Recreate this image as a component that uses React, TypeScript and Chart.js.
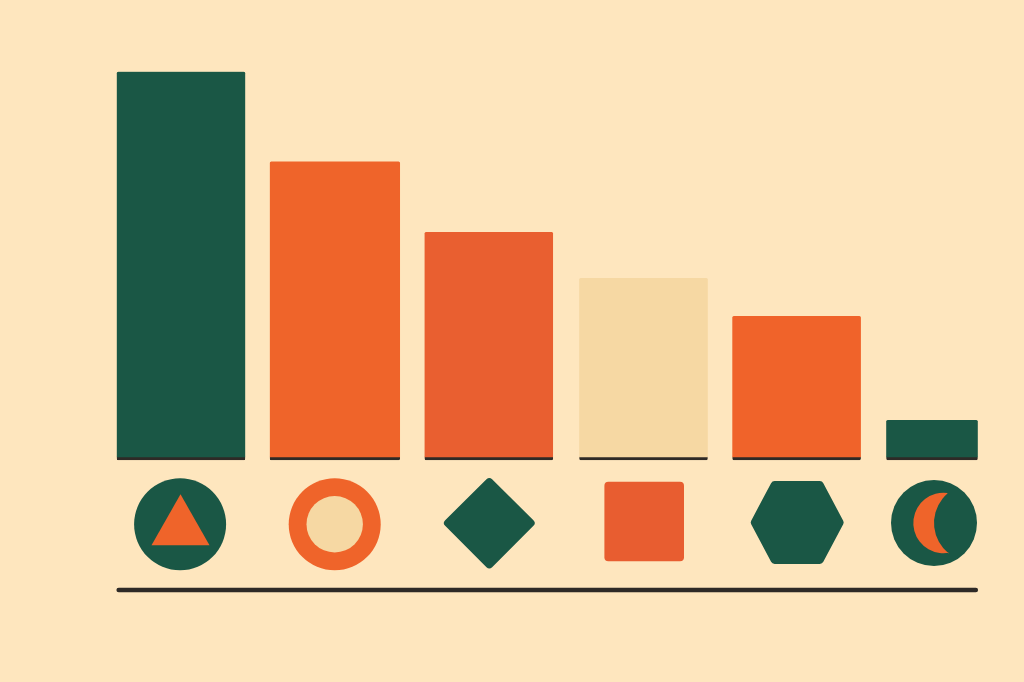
import React, { useEffect, useRef } from "react";
import { Chart, registerables } from "chart.js";

Chart.register(...registerables);

// Data (tallest bar = 100)
const categories = ["Triangle", "Ring", "Diamond", "Square", "Hexagon", "Crescent"];
const values = [100, 76.9, 58.7, 46.9, 37.1, 10.3];
const barColors = ["#1A5745", "#EF642A", "#E95F30", "#F6D8A3", "#F0632A", "#1A5745"];

const GREEN = "#1A5745";
const ORANGE = "#EF642A";
const SQUARE = "#E85D30";
const TAN = "#F6D8A3";
const INK = "#2E2A26";
const PAPER = "#FEE6BE";

const BAR_W = 128.6;
const SECOND_W = 130.3;
const LAST_W = 91.6;
const FOURTH_SHIFT = 0.8;
const ICON_Y = 524;

function roundedPoly(ctx: CanvasRenderingContext2D, pts: number[][], r: number) {
  const n = pts.length;
  const sx = (pts[n - 1][0] + pts[0][0]) / 2;
  const sy = (pts[n - 1][1] + pts[0][1]) / 2;
  ctx.beginPath();
  ctx.moveTo(sx, sy);
  for (let i = 0; i < n; i++) {
    const a = pts[i];
    const b = pts[(i + 1) % n];
    ctx.arcTo(a[0], a[1], b[0], b[1], r);
  }
  ctx.closePath();
  ctx.fill();
}

function disc(ctx: CanvasRenderingContext2D, x: number, y: number, r: number, color: string) {
  ctx.fillStyle = color;
  ctx.beginPath();
  ctx.arc(x, y, r, 0, Math.PI * 2);
  ctx.fill();
}

function drawIcon(ctx: CanvasRenderingContext2D, name: string, x: number, y: number) {
  switch (name) {
    case "Triangle":
      disc(ctx, x - 0.2, y + 0.3, 46, GREEN);
      ctx.fillStyle = ORANGE;
      ctx.beginPath();
      ctx.moveTo(x + 0.2, y - 29.7);
      ctx.lineTo(x + 29.2, y + 21.3);
      ctx.lineTo(x - 28.8, y + 21.3);
      ctx.closePath();
      ctx.fill();
      break;
    case "Ring":
      disc(ctx, x, y + 0.3, 46, ORANGE);
      disc(ctx, x, y + 0.3, 28.2, TAN);
      break;
    case "Diamond":
      ctx.fillStyle = GREEN;
      roundedPoly(
        ctx,
        [
          [x, y - 47.5],
          [x + 47, y - 1],
          [x, y + 46],
          [x - 47, y - 1],
        ],
        4
      );
      break;
    case "Square":
      ctx.fillStyle = SQUARE;
      roundedPoly(
        ctx,
        [
          [x - 39.8, y - 42.3],
          [x + 39.8, y - 42.3],
          [x + 39.8, y + 37.3],
          [x - 39.8, y + 37.3],
        ],
        4
      );
      break;
    case "Hexagon":
      ctx.fillStyle = GREEN;
      roundedPoly(
        ctx,
        [
          [x - 25, y - 43],
          [x + 25, y - 43],
          [x + 47, y - 1.5],
          [x + 25, y + 40],
          [x - 25, y + 40],
          [x - 47, y - 1.5],
        ],
        4
      );
      break;
    case "Crescent": {
      disc(ctx, x, y - 1, 43, GREEN);
      const cy = y - 1;
      const t1 = [x + 13.3, cy - 29.7];
      const t2 = [x + 15, cy + 30];
      const oc = [x + 9.5, cy];
      const ic = [x + 38.9, cy];
      ctx.fillStyle = ORANGE;
      ctx.beginPath();
      ctx.arc(
        oc[0],
        oc[1],
        30.2,
        Math.atan2(t1[1] - oc[1], t1[0] - oc[0]),
        Math.atan2(t2[1] - oc[1], t2[0] - oc[0]),
        true
      );
      ctx.arc(
        ic[0],
        ic[1],
        38.9,
        Math.atan2(t2[1] - ic[1], t2[0] - ic[0]),
        Math.atan2(t1[1] - ic[1], t1[0] - ic[0]),
        false
      );
      ctx.closePath();
      ctx.fill();
      break;
    }
  }
}

const iconNudge = [-0.7, -0.2, 0.5, 1.5, 0.6, -16.5];

const shapePlugin = {
  id: "shapes",
  afterDatasetsUpdate(chart: any) {
    const els = chart.getDatasetMeta(0).data;
    els[1].width = SECOND_W;
    els[3].x += FOURTH_SHIFT;
    // The last bar is narrower and keeps the left edge of its slot.
    const last = els[els.length - 1];
    const left = last.x - BAR_W / 2;
    last.width = LAST_W;
    last.x = left + LAST_W / 2;
  },
  afterDraw(chart: any) {
    const ctx: CanvasRenderingContext2D = chart.ctx;
    const els = chart.getDatasetMeta(0).data;
    const sx = chart.scales.x;
    ctx.save();
    categories.forEach((name, i) => {
      drawIcon(ctx, name, sx.getPixelForValue(i) + iconNudge[i], ICON_Y);
    });
    const first = els[0];
    const last = els[els.length - 1];
    ctx.strokeStyle = INK;
    ctx.lineWidth = 4.6;
    ctx.lineCap = "round";
    ctx.beginPath();
    ctx.moveTo(first.x - first.width / 2 + 2, 590);
    ctx.lineTo(last.x + last.width / 2 - 2, 590);
    ctx.stroke();
    ctx.restore();
  },
};

export default function App() {
  const ref = useRef<HTMLCanvasElement>(null);

  useEffect(() => {
    document.body.style.margin = "0";
    document.body.style.background = PAPER;
    const chart = new Chart(ref.current as HTMLCanvasElement, {
      type: "bar",
      data: {
        labels: categories,
        datasets: [
          {
            data: values,
            backgroundColor: barColors,
            barThickness: BAR_W,
            borderColor: INK,
            borderWidth: { top: 0, left: 0, right: 0, bottom: 3 },
            borderSkipped: false,
            borderRadius: 1.5,
            clip: false,
          },
        ],
      },
      options: {
        responsive: false,
        animation: false,
        devicePixelRatio: 1,
        layout: { padding: { left: 181, right: 73.5, top: 71.7, bottom: 222 } },
        plugins: { legend: { display: false }, tooltip: { enabled: false }, title: { display: false } },
        scales: {
          x: { type: "category", offset: false, display: false },
          y: { min: 0, max: 100, display: false },
        },
      },
      plugins: [shapePlugin],
    } as any);
    return () => chart.destroy();
  }, []);

  return (
    <canvas
      ref={ref}
      width={1024}
      height={682}
      style={{ display: "block", width: 1024, height: 682, background: PAPER }}
    />
  );
}
